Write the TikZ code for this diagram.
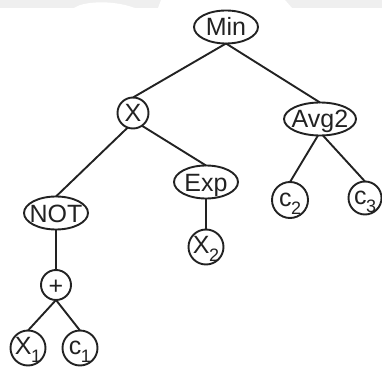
\documentclass[tikz,border=0pt]{standalone}
\usepackage{fontspec}
\setmainfont{Liberation Sans}
\usetikzlibrary{shapes.geometric}
\definecolor{ink}{HTML}{222222}
\definecolor{band}{HTML}{EFEFEF}
\newcommand{\lbl}[1]{\makebox[0pt]{\raisebox{-.36em}[0pt][0pt]{#1}}}
\newcommand{\lblb}[1]{\makebox[0pt]{\raisebox{-.26em}[0pt][0pt]{#1}}}
\newcommand{\subs}[1]{\kern-.5pt\raisebox{-.3em}{\fontsize{18}{18}\selectfont #1}}
\tikzset{
  every node/.style={inner sep=0pt,outer sep=0pt,text=ink,font=\fontsize{25}{25}\selectfont},
  oval/.style={draw=ink,line width=1.9pt,ellipse,minimum width=#1,minimum height=33pt},
  oval/.default=64pt,
  round/.style={draw=ink,line width=1.9pt,circle,minimum size=#1},
  round/.default=35pt,
  edge/.style={draw=ink,line width=1.9pt}
}
\begin{document}
\begin{tikzpicture}[x=1pt,y=-1pt]
\useasboundingbox (0,0) rectangle (382,366);
\fill[band] (0,0) rectangle (382,8);
\fill[white] (74,8) .. controls (82,2) and (110,-1) .. (135,8) -- cycle;
\fill[white] (158,8) -- (161,0) -- (285,0) -- (292,8) -- cycle;
\node[oval] (min) at (226,27) {\lbl{Min}};
\node[round=31pt] (x) at (133,113) {\lbl{X}};
\node[oval=72pt] (avg) at (320,119) {\lbl{Avg2}};
\node[oval] (exp) at (206,182) {\lbl{Exp}};
\node[oval] (not) at (56,213) {\lbl{NOT}};
\node[round=36pt] (c2) at (290,200) {\lblb{c\subs{2}}};
\node[round=33pt] (c3) at (365,198) {\lblb{c\subs{3}}};
\node[round=35pt] (x2) at (206,247) {\lblb{X\subs{2}}};
\node[round=30pt] (plus) at (56,285) {\lbl{+}};
\node[round=35pt] (x1) at (28,348) {\lblb{X\subs{1}}};
\node[round=35pt] (c1) at (80,348) {\lblb{c\subs{1}}};
\draw[edge] (min.south) -- (x.north);
\draw[edge] (min.south) -- (avg.north);
\draw[edge] (x.-110) -- (not.north);
\draw[edge] (x.-55) -- (exp.north);
\draw[edge] (avg.-97) -- (c2.north);
\draw[edge] (avg.-80) -- (c3.north);
\draw[edge] (exp.south) -- (x2.north);
\draw[edge] (not.south) -- (plus.north);
\draw[edge] (plus.south) -- (x1.north);
\draw[edge] (plus.south) -- (c1.north);
\end{tikzpicture}
\end{document}
